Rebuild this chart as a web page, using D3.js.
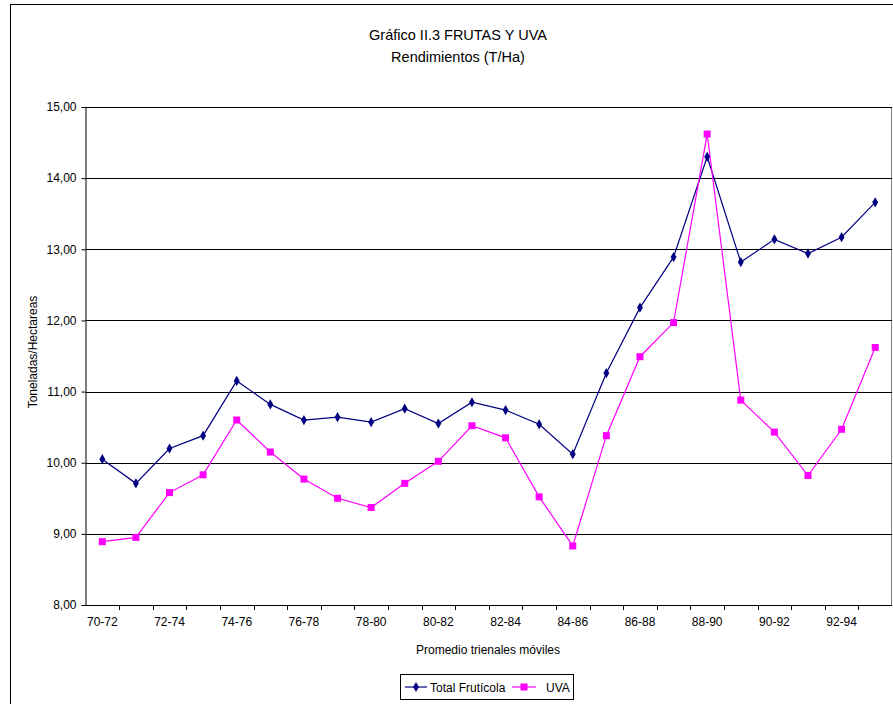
<!DOCTYPE html>
<html>
<head>
<meta charset="utf-8">
<script src="https://cdn.jsdelivr.net/npm/d3@7"></script>
<style>
  html, body { margin: 0; padding: 0; background: #fff; }
  svg { display: block; }
  text { font-family: "Liberation Sans", Arial, sans-serif; fill: #000; }
</style>
</head>
<body>
<svg id="chart" width="893" height="704"></svg>
<script>
const categories = ["70-72","71-73","72-74","73-75","74-76","75-77","76-78","77-79","78-80","79-81",
  "80-82","81-83","82-84","83-85","84-86","85-87","86-88","87-89","88-90","89-91",
  "90-92","91-93","92-94","93-95"];
const totalFruticola = [10.05, 9.71, 10.20, 10.38, 11.15, 10.82, 10.60, 10.64, 10.57, 10.76,
  10.55, 10.85, 10.74, 10.54, 10.12, 11.26, 12.18, 12.89, 14.30, 12.82,
  13.14, 12.94, 13.17, 13.66];
const uva = [8.89, 8.95, 9.58, 9.83, 10.60, 10.15, 9.77, 9.50, 9.37, 9.71,
  10.02, 10.52, 10.35, 9.52, 8.83, 10.38, 11.49, 11.97, 14.62, 10.88,
  10.43, 9.82, 10.47, 11.62];
const yTicks = [8, 9, 10, 11, 12, 13, 14, 15];
const titleLines = ["Gráfico II.3 FRUTAS Y UVA", "Rendimientos (T/Ha)"];
const xTitle = "Promedio trienales móviles";
const yTitle = "Toneladas/Hectareas";
const seriesNames = ["Total Frutícola", "UVA"];

const svg = d3.select("#chart");
const W = 893, H = 704;
const plot = { left: 85.5, right: 892, top: 107, bottom: 605 };

// outer chart border
svg.append("rect").attr("x", 10.5).attr("y", 4.5).attr("width", W + 10).attr("height", H + 10)
  .attr("fill", "none").attr("stroke", "#000").attr("stroke-width", 1);

const x = d3.scaleBand().domain(categories).range([plot.left, plot.right]).padding(0);
const y = d3.scaleLinear().domain([8, 15]).range([plot.bottom, plot.top]);
const fmt = v => d3.format(".2f")(v).replace(".", ",");

// title
svg.append("g").selectAll("text").data(titleLines).join("text")
  .attr("x", 458).attr("y", (d, i) => 40 + i * 22)
  .attr("text-anchor", "middle").attr("font-size", 14.5)
  .text(d => d);

// plot area right border
svg.append("line").attr("x1", plot.right - 0.5).attr("x2", plot.right - 0.5)
  .attr("y1", plot.top).attr("y2", plot.bottom).attr("stroke", "#808080");

// gridlines
svg.append("g").selectAll("line").data(yTicks.filter(t => t > 8)).join("line")
  .attr("x1", plot.left).attr("x2", plot.right)
  .attr("y1", d => Math.round(y(d)) + 0.5).attr("y2", d => Math.round(y(d)) + 0.5)
  .attr("stroke", "#000").attr("stroke-width", 1);

// y axis
const yAxis = d3.axisLeft(y).tickValues(yTicks).tickFormat(fmt).tickSize(4).tickPadding(5);
const gy = svg.append("g").attr("transform", `translate(${plot.left},0)`).call(yAxis);
gy.select(".domain").attr("stroke", "#000");
gy.selectAll("text").attr("font-size", 12).attr("font-family", '"Liberation Sans", Arial, sans-serif');

// x axis
const xAxis = d3.axisBottom(x).tickSize(0).tickPadding(12)
  .tickFormat((d, i) => i % 2 === 0 ? d : "");
const gx = svg.append("g").attr("transform", `translate(0,${plot.bottom})`).call(xAxis);
gx.select(".domain").remove();
gx.selectAll("text").attr("font-size", 12).attr("font-family", '"Liberation Sans", Arial, sans-serif');
svg.append("line").attr("x1", plot.left).attr("x2", plot.right)
  .attr("y1", plot.bottom + 0.5).attr("y2", plot.bottom + 0.5).attr("stroke", "#000");
// boundary ticks between categories
const bounds = categories.map(c => x(c)).concat([plot.right]);
svg.append("g").selectAll("line").data(bounds.slice(1, -1)).join("line")
  .attr("x1", d => Math.round(d) + 0.5).attr("x2", d => Math.round(d) + 0.5)
  .attr("y1", plot.bottom).attr("y2", plot.bottom + 5).attr("stroke", "#000");

// axis titles
svg.append("text").attr("x", 488).attr("y", 654).attr("text-anchor", "middle")
  .attr("font-size", 12).text(xTitle);
svg.append("text").attr("transform", "translate(37,352) rotate(-90)")
  .attr("text-anchor", "middle").attr("font-size", 12).text(yTitle);

const cx = d => x(d) + x.bandwidth() / 2;
const line = d3.line().x(d => cx(d.c)).y(d => y(d.v));
const totalData = categories.map((c, i) => ({ c, v: totalFruticola[i] }));
const uvaData = categories.map((c, i) => ({ c, v: uva[i] }));

const navy = "#000080", magenta = "#FF00FF";
const diamond = d3.symbol().type(d3.symbolDiamond).size(30);

svg.append("path").datum(totalData).attr("d", line)
  .attr("fill", "none").attr("stroke", navy).attr("stroke-width", 1.2);
svg.append("path").datum(uvaData).attr("d", line)
  .attr("fill", "none").attr("stroke", magenta).attr("stroke-width", 1.2);

svg.append("g").selectAll("path").data(totalData).join("path")
  .attr("d", diamond)
  .attr("transform", d => `translate(${cx(d.c)},${y(d.v)})`)
  .attr("fill", navy);
svg.append("g").selectAll("rect").data(uvaData).join("rect")
  .attr("x", d => cx(d.c) - 3.5).attr("y", d => y(d.v) - 3.5)
  .attr("width", 7).attr("height", 7).attr("fill", magenta);

// legend
const lg = svg.append("g");
lg.append("rect").attr("x", 400.5).attr("y", 674.5).attr("width", 173).attr("height", 25)
  .attr("fill", "#fff").attr("stroke", "#000");
lg.append("line").attr("x1", 405).attr("x2", 427).attr("y1", 687).attr("y2", 687)
  .attr("stroke", navy).attr("stroke-width", 1.2);
lg.append("path").attr("d", diamond).attr("transform", "translate(416,687)").attr("fill", navy);
lg.append("text").attr("x", 430).attr("y", 691.5).attr("font-size", 12).text(seriesNames[0]);
lg.append("line").attr("x1", 512).attr("x2", 536).attr("y1", 687).attr("y2", 687)
  .attr("stroke", magenta).attr("stroke-width", 1.2);
lg.append("rect").attr("x", 520.5).attr("y", 683.5).attr("width", 7).attr("height", 7).attr("fill", magenta);
lg.append("text").attr("x", 546).attr("y", 691.5).attr("font-size", 12).text(seriesNames[1]);
</script>
</body>
</html>
